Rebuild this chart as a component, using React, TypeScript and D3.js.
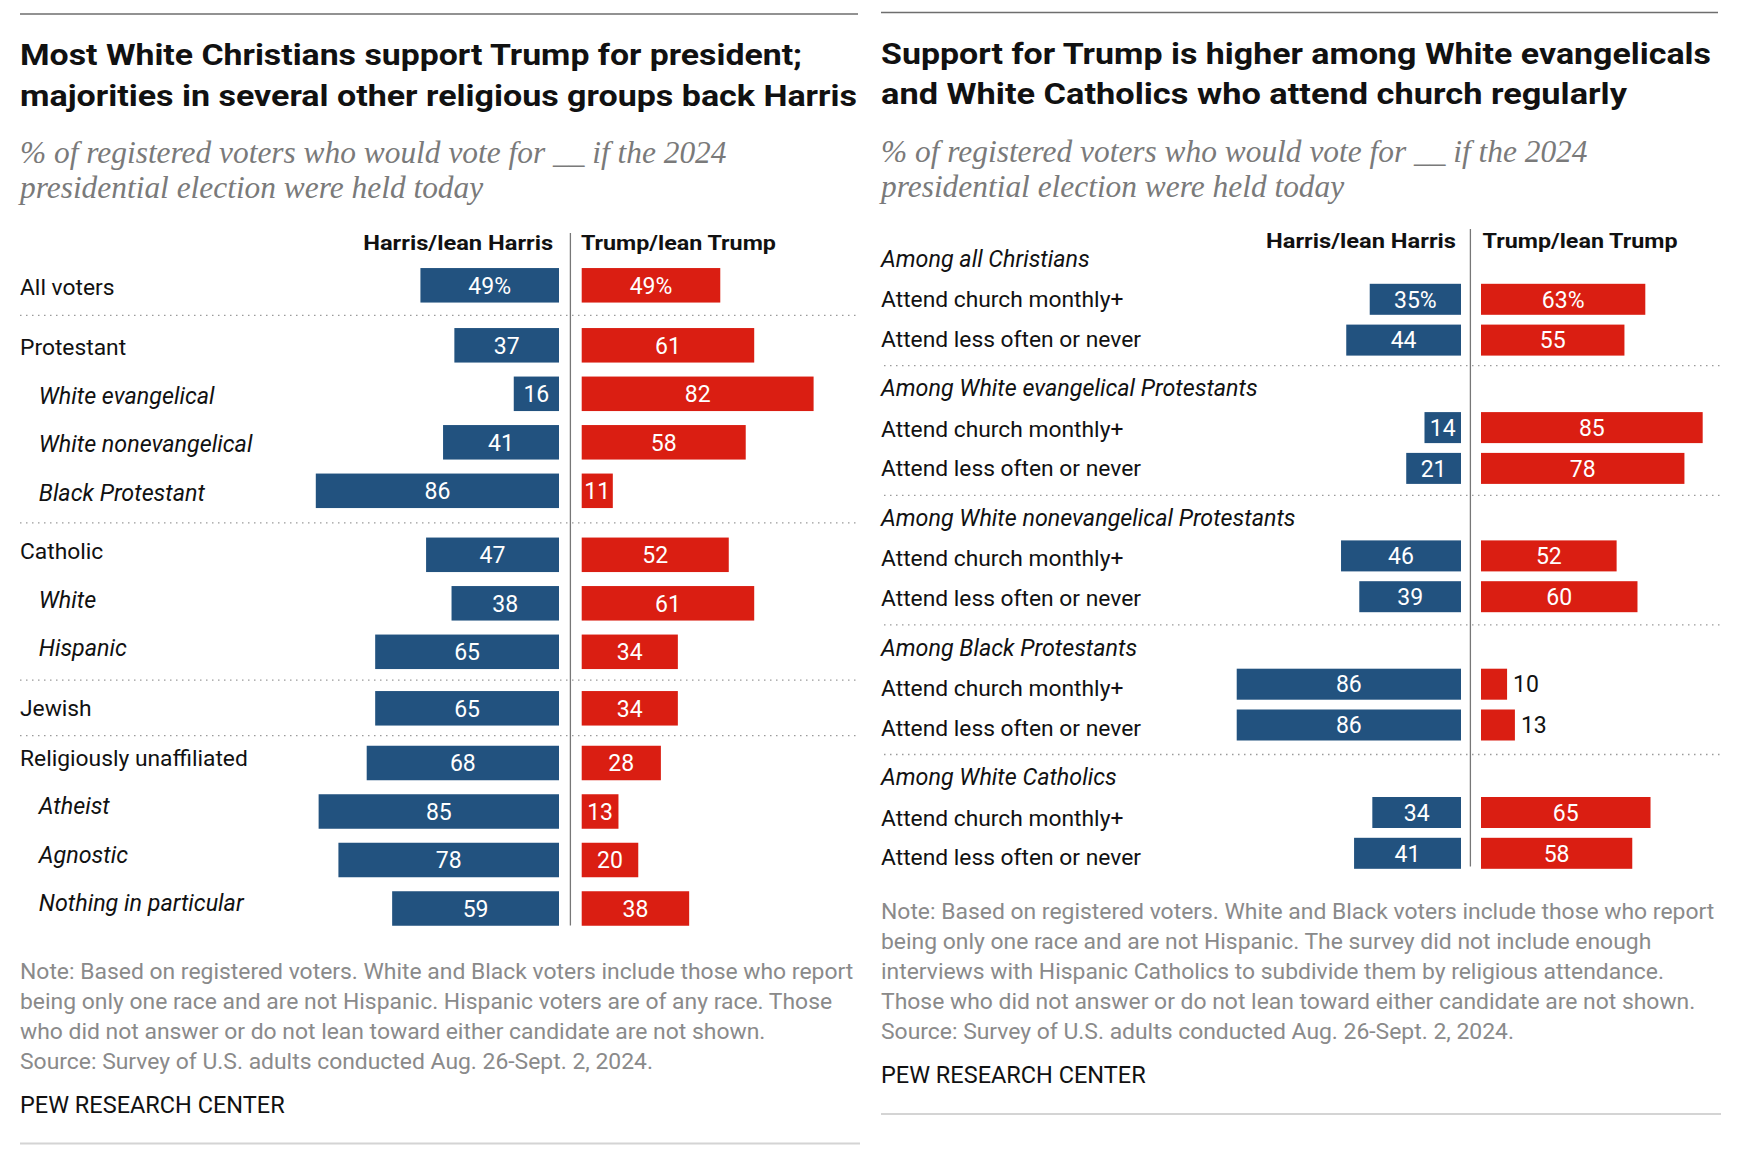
import React from "react";
import * as d3 from "d3";

// ---------- Data ----------
const leftCategories = [
  "All voters",
  "Protestant",
  "White evangelical",
  "White nonevangelical",
  "Black Protestant",
  "Catholic",
  "White",
  "Hispanic",
  "Jewish",
  "Religiously unaffiliated",
  "Atheist",
  "Agnostic",
  "Nothing in particular",
];
const leftIsSub = [false, false, true, true, true, false, true, true, false, false, true, true, true];
const leftGroup = [0, 1, 1, 1, 1, 2, 2, 2, 3, 4, 4, 4, 4];
const leftHarris = [49, 37, 16, 41, 86, 47, 38, 65, 65, 68, 85, 78, 59];
const leftTrump = [49, 61, 82, 58, 11, 52, 61, 34, 34, 28, 13, 20, 38];

const rightGroups = [
  "Among all Christians",
  "Among White evangelical Protestants",
  "Among White nonevangelical Protestants",
  "Among Black Protestants",
  "Among White Catholics",
];
const rightRows = ["Attend church monthly+", "Attend less often or never"];
const rightHarris = [35, 44, 14, 21, 46, 39, 86, 86, 34, 41];
const rightTrump = [63, 55, 85, 78, 52, 60, 10, 13, 65, 58];

const leftTitle = [
  "Most White Christians support Trump for president;",
  "majorities in several other religious groups back Harris",
];
const rightTitle = [
  "Support for Trump is higher among White evangelicals",
  "and White Catholics who attend church regularly",
];
const subtitle = [
  "% of registered voters who would vote for __ if the 2024",
  "presidential election were held today",
];
const headers = ["Harris/lean Harris", "Trump/lean Trump"];
const leftNotes = [
  "Note: Based on registered voters. White and Black voters include those who report",
  "being only one race and are not Hispanic. Hispanic voters are of any race. Those",
  "who did not answer or do not lean toward either candidate are not shown.",
  "Source: Survey of U.S. adults conducted Aug. 26-Sept. 2, 2024.",
];
const rightNotes = [
  "Note: Based on registered voters. White and Black voters include those who report",
  "being only one race and are not Hispanic. The survey did not include enough",
  "interviews with Hispanic Catholics to subdivide them by religious attendance.",
  "Those who did not answer or do not lean toward either candidate are not shown.",
  "Source: Survey of U.S. adults conducted Aug. 26-Sept. 2, 2024.",
];
const credit = "PEW RESEARCH CENTER";

// ---------- Styles / layout ----------
const BLUE = "#22527f";
const RED = "#da1e12";
const SANS = "Roboto, 'Noto Sans', sans-serif";
const SERIF = "'Liberation Serif', 'DejaVu Serif', serif";
const GRAY_TEXT = "#8a8a8a";
const LABEL_SIZE = 22.8;
const ITALIC_SIZE = 23.3;
const NOTE_SIZE = 22.9;
const VALUE_SIZE = 23;
const TITLE_SIZE = 30;
const SUB_SIZE = 31.4;
const HEADER_SIZE = 21;

// title / header rendered widths (px) to mimic the condensed-bold face
const leftTitleWidths = [782, 837];
const rightTitleWidths = [830, 746];
const headerWidths = [190, 195];

// extra gap inserted before each new group (left panel), and label baseline shift per group
const leftGroupGaps = [0, 11.5, 15.5, 8, 6.2];
const leftLabelShift = [10, 9.7, 4.5, 8, 2.8];

function Bars({ cy, h, harris, trump, xH, xT, pct, outsideBelow }) {
  const hw = xH(0) - xH(harris);
  const tw = xT(trump) - xT(0);
  const trumpOutside = trump < outsideBelow;
  const ty = cy + VALUE_SIZE * 0.36;
  return (
    <g>
      <rect x={xH(harris)} y={cy - h / 2} width={hw} height={h} fill={BLUE} />
      <rect x={xT(0)} y={cy - h / 2} width={tw} height={h} fill={RED} />
      <text x={xH(0) - hw / 2} y={ty} textAnchor="middle" fill="#fff" fontSize={VALUE_SIZE} fontFamily={SANS}>
        {harris}
        {pct ? "%" : ""}
      </text>
      <text
        x={trumpOutside ? xT(trump) + 6 : xT(0) + tw / 2}
        y={ty}
        textAnchor={trumpOutside ? "start" : "middle"}
        fill={trumpOutside ? "#111" : "#fff"}
        fontSize={VALUE_SIZE}
        fontFamily={SANS}
      >
        {trump}
        {pct ? "%" : ""}
      </text>
    </g>
  );
}

function Titles({ x0, lines, widths, y0, step, subY0 }) {
  return (
    <g>
      {lines.map((t, i) => (
        <text
          key={t}
          x={x0}
          y={y0 + i * step}
          fontFamily={SANS}
          fontWeight={700}
          fontSize={TITLE_SIZE}
          fill="#111"
          textLength={widths[i]}
          lengthAdjust="spacingAndGlyphs"
        >
          {t}
        </text>
      ))}
      {subtitle.map((t, i) => (
        <text key={t} x={x0} y={subY0 + i * 35} fontFamily={SERIF} fontStyle="italic" fontSize={SUB_SIZE} fill="#7a7a7a">
          {t}
        </text>
      ))}
    </g>
  );
}

function Headers({ divX, y, gapL, gapR }) {
  return (
    <g>
      <text
        x={divX - gapL - headerWidths[0]}
        y={y}
        fontFamily={SANS}
        fontWeight={700}
        fontSize={HEADER_SIZE}
        fill="#111"
        textLength={headerWidths[0]}
        lengthAdjust="spacingAndGlyphs"
      >
        {headers[0]}
      </text>
      <text
        x={divX + gapR}
        y={y}
        fontFamily={SANS}
        fontWeight={700}
        fontSize={HEADER_SIZE}
        fill="#111"
        textLength={headerWidths[1]}
        lengthAdjust="spacingAndGlyphs"
      >
        {headers[1]}
      </text>
    </g>
  );
}

function Dotted({ x1, x2, y }) {
  return <line x1={x1} x2={x2} y1={y} y2={y} stroke="#9a9a9a" strokeWidth={1.3} strokeDasharray="1.5,4.5" />;
}

function LeftPanel() {
  const x0 = 20;
  const xEnd = 858;
  const divX = 570.4;
  const xH = d3.scaleLinear().domain([0, 100]).range([559, 559 - 282.8]);
  const xT = d3.scaleLinear().domain([0, 100]).range([581.7, 581.7 + 282.8]);
  const rowStep = 48.5;
  const ys: number[] = [];
  let y = 285.3;
  leftCategories.forEach((_, i) => {
    if (i > 0) {
      y += rowStep;
      if (leftGroup[i] !== leftGroup[i - 1]) y += leftGroupGaps[leftGroup[i]];
    }
    ys.push(y);
  });
  const seps: number[] = [];
  for (let i = 1; i < ys.length; i++) {
    if (leftGroup[i] !== leftGroup[i - 1]) seps.push((ys[i] + ys[i - 1]) / 2);
  }
  return (
    <g>
      <line x1={x0} x2={xEnd} y1={14} y2={14} stroke="#6e6e6e" strokeWidth={1.5} />
      <Titles x0={x0} lines={leftTitle} widths={leftTitleWidths} y0={65} step={41} subY0={163} />
      <Headers divX={divX} y={250} gapL={17.2} gapR={10.5} />
      {seps.map((s, i) => (
        <Dotted key={i} x1={x0} x2={xEnd} y={s} />
      ))}
      {leftCategories.map((c, i) => (
        <g key={c + i}>
          <text
            x={leftIsSub[i] ? 38.8 : x0}
            y={ys[i] + leftLabelShift[leftGroup[i]]}
            fontFamily={SANS}
            fontSize={leftIsSub[i] ? ITALIC_SIZE : LABEL_SIZE}
            fontStyle={leftIsSub[i] ? "italic" : "normal"}
            fill="#111"
          >
            {c}
          </text>
          <Bars cy={ys[i]} h={34.5} harris={leftHarris[i]} trump={leftTrump[i]} xH={xH} xT={xT} pct={i === 0} outsideBelow={0} />
        </g>
      ))}
      <line x1={divX} x2={divX} y1={233} y2={ys[ys.length - 1] + 17} stroke="#777" strokeWidth={1.3} />
      {leftNotes.map((t, i) => (
        <text key={i} x={x0} y={979 + i * 29.9} fontFamily={SANS} fontSize={NOTE_SIZE} fill={GRAY_TEXT}>
          {t}
        </text>
      ))}
      <text x={x0} y={1113} fontFamily={SANS} fontSize={23.5} fill="#111">
        {credit}
      </text>
      <line x1={x0} x2={860} y1={1143.5} y2={1143.5} stroke="#d4d4d4" strokeWidth={2} />
    </g>
  );
}

function RightPanel() {
  const x0 = 881;
  const xEnd = 1722;
  const divX = 1470.4;
  const xH = d3.scaleLinear().domain([0, 100]).range([1461, 1461 - 260.8]);
  const xT = d3.scaleLinear().domain([0, 100]).range([1481, 1481 + 260.8]);
  const groupStep = 129.6;
  const barGroupStep = 128.3;
  const headerY = (g: number) => 266.7 + g * groupStep;
  const labelY = (g: number, r: number) => headerY(g) + 40.5 + r * 39.5;
  const barY = (g: number, r: number) => 299.3 + g * barGroupStep + r * 40.8;
  return (
    <g>
      <line x1={x0} x2={1718} y1={12.5} y2={12.5} stroke="#6e6e6e" strokeWidth={1.5} />
      <Titles x0={x0} lines={rightTitle} widths={rightTitleWidths} y0={63.5} step={40.5} subY0={161.5} />
      <Headers divX={divX} y={248} gapL={14.4} gapR={12.2} />
      {rightGroups.map((gName, g) => (
        <g key={gName}>
          <text x={x0} y={headerY(g)} fontFamily={SANS} fontStyle="italic" fontSize={ITALIC_SIZE} fill="#111">
            {gName}
          </text>
          {g < rightGroups.length - 1 && <Dotted x1={884} x2={xEnd} y={365.7 + g * groupStep} />}
          {rightRows.map((r, ri) => {
            const idx = g * rightRows.length + ri;
            return (
              <g key={r}>
                <text x={x0} y={labelY(g, ri)} fontFamily={SANS} fontSize={LABEL_SIZE} fill="#111">
                  {r}
                </text>
                <Bars
                  cy={barY(g, ri)}
                  h={31}
                  harris={rightHarris[idx]}
                  trump={rightTrump[idx]}
                  xH={xH}
                  xT={xT}
                  pct={idx === 0}
                  outsideBelow={14}
                />
              </g>
            );
          })}
        </g>
      ))}
      <line x1={divX} x2={divX} y1={229} y2={866.5} stroke="#777" strokeWidth={1.3} />
      {rightNotes.map((t, i) => (
        <text key={i} x={x0} y={919 + i * 30} fontFamily={SANS} fontSize={NOTE_SIZE} fill={GRAY_TEXT}>
          {t}
        </text>
      ))}
      <text x={x0} y={1083} fontFamily={SANS} fontSize={23.5} fill="#111">
        {credit}
      </text>
      <line x1={x0} x2={1721} y1={1114} y2={1114} stroke="#d4d4d4" strokeWidth={2} />
    </g>
  );
}

export default function App() {
  return (
    <svg
      width={1740}
      height={1160}
      viewBox="0 0 1740 1160"
      style={{ position: "absolute", left: 0, top: 0, display: "block", background: "#fff" }}
    >
      <rect width={1740} height={1160} fill="#fff" />
      <LeftPanel />
      <RightPanel />
    </svg>
  );
}
